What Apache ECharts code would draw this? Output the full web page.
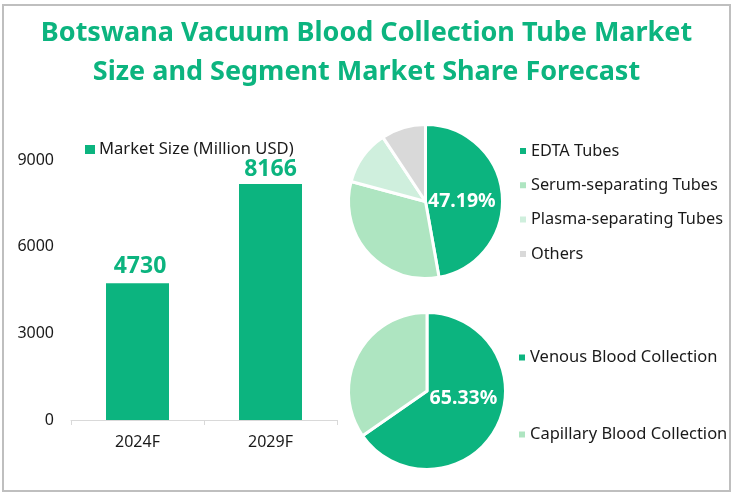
<!DOCTYPE html>
<html>
<head>
<meta charset="utf-8">
<style>
html, body { margin: 0; padding: 0; background: #fff; }
#chart { width: 733px; height: 496px; }
</style>
<script src="https://cdn.jsdelivr.net/npm/echarts@6/dist/echarts.min.js"></script>
</head>
<body>
<div id="chart"></div>
<script>
const years = ['2024F', '2029F'];
const marketSize = [4730, 8166];
const typeNames = ['EDTA Tubes', 'Serum-separating Tubes', 'Plasma-separating Tubes', 'Others'];
const typeShares = [47.19, 32, 11.5, 9.31];
const methodNames = ['Venous Blood Collection', 'Capillary Blood Collection'];
const methodShares = [65.33, 34.67];

const GREEN = '#0cb47f';
const FONT = '"Noto Sans", sans-serif';
const TEXT = '#1a1a1a';
const colors = [GREEN, '#aee5c1', '#cfefdd', '#d9d9d9'];

let myChart = echarts.init(document.getElementById('chart'));

// 饼图数据
function toSlices(names, values) {
    return names.map(function (name, i) {
        return { value: values[i], name: name, itemStyle: { color: colors[i] } };
    });
}

// 只显示第一块的标签
function firstLabel(values) {
    return function (params) {
        return params.dataIndex === 0 ? values[0].toFixed(2) + '%' : '';
    };
}

function pieSeries(name, center, radius, names, values, labelShift) {
    return {
        name: name,
        type: 'pie',
        center: center,
        radius: radius,
        startAngle: 90,
        clockwise: true,
        silent: true,
        animation: false,
        itemStyle: { borderColor: '#fff', borderWidth: 3 },
        labelLine: { show: false },
        label: {
            position: 'inside',
            color: '#fff',
            fontFamily: FONT,
            fontWeight: 'bold',
            fontSize: 19.5,
            formatter: firstLabel(values)
        },
        labelLayout: labelShift,
        data: toSlices(names, values)
    };
}

function legendAt(left, top, names, gap, iconW, iconH, fontSize) {
    return {
        left: left,
        top: top,
        orient: 'vertical',
        itemWidth: iconW,
        itemHeight: iconH,
        itemGap: gap,
        icon: 'rect',
        padding: 0,
        selectedMode: false,
        textStyle: { color: TEXT, fontFamily: FONT, fontSize: fontSize, padding: [0, 0, 0, -1] },
        data: names
    };
}

let option = {
    animation: false,
    backgroundColor: '#fff',
    title: {
        text: 'Botswana Vacuum Blood Collection Tube Market\nSize and Segment Market Share Forecast',
        left: 'center',
        top: 9,
        textStyle: {
            color: GREEN,
            fontFamily: FONT,
            fontWeight: 'bold',
            fontSize: 27,
            lineHeight: 39
        }
    },
    // 外边框
    graphic: [{
        type: 'rect',
        silent: true,
        z: -1,
        shape: { x: 3, y: 5, width: 727, height: 486 },
        style: { fill: 'none', stroke: '#bfbfbf', lineWidth: 2 }
    }],
    legend: [
        legendAt(85, 141, ['Market Size (Million USD)'], 0, 10, 9, 16.6),
        legendAt(518, 143, typeNames, 18.3, 8, 8, 16.3),
        legendAt(517, 349, [methodNames[0]], 0, 8, 8, 16.5),
        legendAt(517, 426, [methodNames[1]], 0, 8, 8, 16.5)
    ],
    grid: { left: 71, right: 396, top: 160, bottom: 76 },
    xAxis: {
        type: 'category',
        data: years,
        axisLine: { lineStyle: { color: '#d9d9d9' } },
        axisTick: { show: true, alignWithLabel: false, length: 5, lineStyle: { color: '#d9d9d9' } },
        axisLabel: { color: TEXT, fontFamily: FONT, fontSize: 16, margin: 14 }
    },
    yAxis: {
        type: 'value',
        min: 0,
        max: 9000,
        interval: 3000,
        splitLine: { show: false },
        axisLine: { show: false },
        axisTick: { show: false },
        axisLabel: {
            color: TEXT,
            fontFamily: FONT,
            fontSize: 16,
            margin: 17,
            formatter: function (v) { return String(v); }
        }
    },
    series: [
        {
            name: 'Market Size (Million USD)',
            type: 'bar',
            barWidth: 63,
            data: marketSize,
            itemStyle: { color: GREEN },
            label: {
                show: true,
                position: 'top',
                distance: 3,
                color: GREEN,
                fontFamily: FONT,
                fontWeight: 'bold',
                fontSize: 23
            },
            labelLayout: function (params) {
                return params.dataIndex === 0 ? { dx: 2.5, dy: -2 } : {};
            }
        },
        pieSeries('Type', [425.5, 201.5], 77, typeNames, typeShares, { dx: -5, dy: 4 }),
        pieSeries('Method', [427, 391], 78.5, methodNames, methodShares, { dx: -1, dy: -12 })
    ]
};

myChart.setOption(option);
window.addEventListener('resize', function () {
    myChart.resize();
});
</script>
</body>
</html>
